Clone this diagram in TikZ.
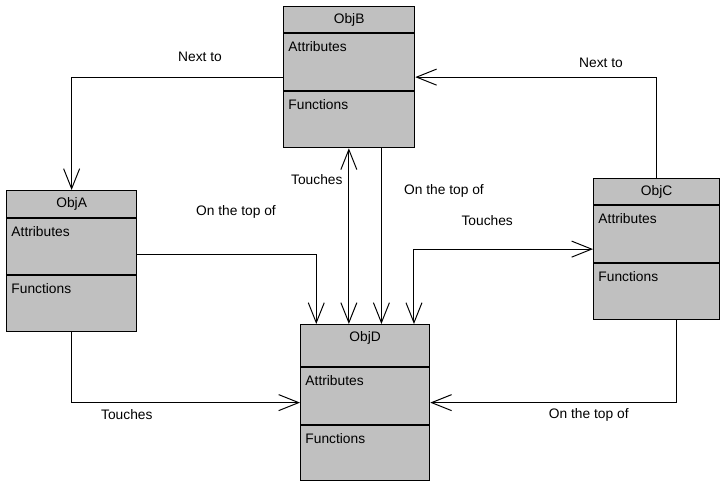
\documentclass[tikz,border=0pt]{standalone}
\usepackage{fontspec}
\setmainfont{Liberation Sans}
\usepackage{tikz}
\usetikzlibrary{arrows.meta,positioning,calc}
\definecolor{boxgray}{RGB}{192,192,192}
\tikzset{
    objbox/.style={draw, line width=0.9pt, fill=boxgray, rectangle, inner sep=0pt, anchor=north west},
    sect/.style={anchor=north west, inner sep=0pt, font=\fontsize{9.8pt}{12pt}\selectfont},
    title/.style={inner sep=0pt, font=\fontsize{9.8pt}{12pt}\selectfont},
    lbl/.style={inner sep=0pt, font=\fontsize{9.8pt}{12pt}\selectfont},
    conn/.style={line width=0.7pt, >={Straight Barb[length=0.5cm,width=0.4cm]}}
}

\begin{document}
\begin{tikzpicture}
    \useasboundingbox (0,0) rectangle (18,12.025);

    % the four objects
    \node[objbox, minimum width=3.275cm, minimum height=3.525cm] (objB) at (7.075,11.875) {};
    \node[objbox, minimum width=3.25cm, minimum height=3.525cm] (objA) at (0.15,7.275) {};
    \node[objbox, minimum width=3.225cm, minimum height=3.9cm] (objD) at (7.5,3.925) {};
    \node[objbox, minimum width=3.15cm, minimum height=3.525cm] (objC) at (14.825,7.575) {};

    % compartments: name / header height / height of attributes part
    \foreach \o/\t/\h/\a in {objB/ObjB/0.675/1.45, objA/ObjA/0.7/1.425, objD/ObjD/1.075/1.45, objC/ObjC/0.675/1.45} {
        \draw[line width=0.9pt] ([yshift=-\h cm]\o.north west) -- ([yshift=-\h cm]\o.north east);
        \draw[line width=0.9pt] ([yshift=-\h cm-\a cm]\o.north west) -- ([yshift=-\h cm-\a cm]\o.north east);
        \node[title] at ([yshift=-0.34cm]\o.north) {\t};
        \node[sect] at ([xshift=0.13cm, yshift=-\h cm-0.21cm]\o.north west) {Attributes};
        \node[sect] at ([xshift=0.13cm, yshift=-\h cm-\a cm-0.21cm]\o.north west) {Functions};
    }

    % drop points on top of ObjD
    \foreach \i/\f in {1/0.125, 2/0.375, 3/0.625, 4/0.875}
        \coordinate (dtop\i) at ($(objD.north west)!\f!(objD.north east)$);

    % relations
    \draw[conn, ->] (objB.west) -| (objA.north);
    \draw[conn, ->] (objC.north) |- (objB.east);
    \draw[conn, ->] ([yshift=0.16cm]objA.east) -| (dtop1);
    \draw[conn, <->] (dtop2 |- objB.south) -- (dtop2);
    \draw[conn, ->] (dtop3 |- objB.south) -- (dtop3);
    \draw[conn, <->] (objC.west) -| (dtop4);
    \draw[conn, ->] (objA.south) |- (objD.west);
    \draw[conn, ->] ([xshift=0.5cm]objC.south) |- (objD.east);

    % relation labels
    \node[lbl] (lNextL) at (5.0,10.6) {Next to};
    \node[lbl] (lNextR) at (15.025,10.45) {Next to};
    \node[lbl] (lTopA) at (5.9,6.725) {On the top of};
    \node[lbl] (lTouchB) at (7.92,7.525) {Touches};
    \node[lbl] (lTopB) at (11.1,7.25) {On the top of};
    \node[lbl] (lTouchC) at (12.18,6.5) {Touches};
    \node[lbl] (lTouchA) at (3.17,1.65) {Touches};
    \node[lbl] (lTopC) at (14.72,1.65) {On the top of};
\end{tikzpicture}
\end{document}
